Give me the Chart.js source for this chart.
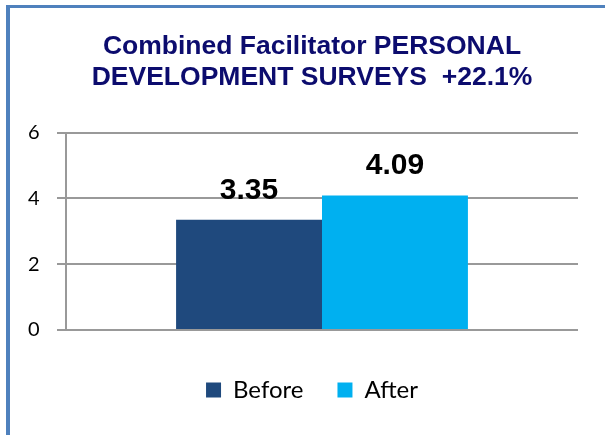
<!DOCTYPE html>
<html>
<head>
<meta charset="utf-8">
<script src="https://cdn.jsdelivr.net/npm/chart.js@4.4.1/dist/chart.umd.min.js"></script>
<style>
  body { margin: 0; background: #fff; overflow: hidden; }
  #wrap { position: relative; width: 605px; height: 435px; }
  #frame { position: absolute; left: 6px; top: 5px; width: 700px; height: 500px;
           border-top: 3px solid #4f81bd; border-left: 4px solid #4f81bd; pointer-events: none; }
</style>
</head>
<body>
<div id="wrap">
  <canvas id="surveyChart" width="605" height="435"></canvas>
  <div id="frame"></div>
</div>
<script>
const categories = [''];
const beforeValues = [3.35];
const afterValues = [4.09];
const yTicks = [0, 2, 4, 6];
const titleLines = ['Combined Facilitator PERSONAL', 'DEVELOPMENT SURVEYS  +22.1%'];

// values printed above each bar
const barLabels = {
  id: 'barLabels',
  afterDatasetsDraw(chart) {
    const ctx = chart.ctx;
    ctx.save();
    ctx.font = 'bold 30px "Liberation Sans", Arial, sans-serif';
    ctx.fillStyle = '#000';
    ctx.textAlign = 'center';
    ctx.textBaseline = 'alphabetic';
    chart.data.datasets.forEach((ds, i) => {
      chart.getDatasetMeta(i).data.forEach((bar, j) => {
        ctx.fillText(ds.data[j].toFixed(2), bar.x, bar.y - 21);
      });
    });
    ctx.restore();
  }
};

const chart = new Chart(document.getElementById('surveyChart'), {
  type: 'bar',
  data: {
    labels: categories,
    datasets: [
      { label: 'Before', data: beforeValues, backgroundColor: '#1f497d' },
      { label: 'After', data: afterValues, backgroundColor: '#00b0f0' }
    ]
  },
  options: {
    responsive: false,
    animation: false,
    layout: { padding: { left: 46, right: 27, top: 0, bottom: 23 } },
    datasets: { bar: { categoryPercentage: 0.57, barPercentage: 1 } },
    plugins: {
      title: {
        display: true,
        text: titleLines,
        color: '#0c0c6e',
        font: { family: '"Liberation Sans", Arial, sans-serif', size: 26.5, weight: 'bold', lineHeight: 1.18 },
        padding: { top: 31, bottom: 39 }
      },
      legend: {
        position: 'bottom',
        labels: {
          color: '#000',
          boxWidth: 15,
          boxHeight: 15,
          padding: 34,
          font: { family: 'Lato, sans-serif', size: 24 }
        }
      },
      tooltip: { enabled: false }
    },
    scales: {
      x: {
        grid: { display: false, drawTicks: false },
        border: { display: false },
        ticks: { padding: 2, font: { size: 10, lineHeight: 1 } }
      },
      y: {
        min: yTicks[0],
        max: yTicks[yTicks.length - 1],
        // labels sit left of the narrow axis box, so mirror them outward
        afterFit: scale => { scale.width = 20; },
        ticks: {
          stepSize: yTicks[1] - yTicks[0],
          mirror: true,
          padding: -38,
          color: '#000',
          font: { family: 'Lato, sans-serif', size: 20 }
        },
        grid: { color: '#999', lineWidth: 2, tickLength: 9 },
        border: { color: '#999', width: 2 }
      }
    }
  },
  plugins: [barLabels]
});
</script>
</body>
</html>
